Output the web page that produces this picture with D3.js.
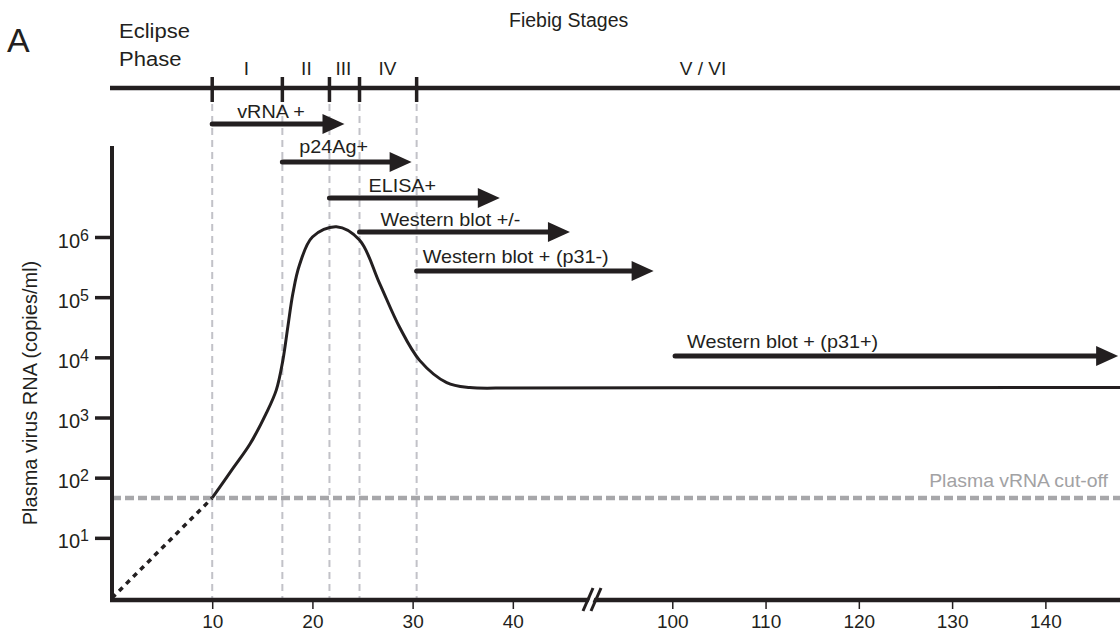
<!DOCTYPE html>
<html>
<head>
<meta charset="utf-8">
<title>Fiebig stages</title>
<script src="https://d3js.org/d3.v7.min.js"></script>
<style>
  body { margin: 0; background: #fff; }
  text { font-family: "Liberation Sans", Arial, Helvetica, sans-serif; fill: #231f20; }
</style>
</head>
<body>
<script>
// ---- data ----
var curveDays   = [10, 12.1, 13.8, 15.4, 16.4, 17.05, 17.55, 18.05, 18.7, 20.0, 22.4, 24.7, 26.7, 28.7, 30.7, 33.4, 35.7, 40, 100, 148];
var curveCopies = [46, 145, 370, 1180, 2880, 8900, 32400, 115000, 339000, 1.0e6, 1.48e6, 890000, 170000, 31600, 8900, 3800, 3150, 3100, 3120, 3150];
var extrapDays   = [0, 10];
var extrapCopies = [1, 46];
var cutoffCopies = 46;

var stageBounds = [10, 17, 21.7, 24.7, 30.4];
var stageNames  = ["I", "II", "III", "IV", "V / VI"];
var stageMid    = [13.4, 19.4, 23.1, 27.5, 103.3];

var assayNames = ["vRNA +", "p24Ag+", "ELISA+", "Western blot +/-", "Western blot + (p31-)", "Western blot + (p31+)"];
var assayStart = [10, 17, 21.7, 24.7, 30.4, 100.3];
var assayEnd   = [23.2, 29.9, 38.7, 45.7, 98, 147.8];

var xTicks = [10, 20, 30, 40, 100, 110, 120, 130, 140];
var yTicks = [1e1, 1e2, 1e3, 1e4, 1e5, 1e6];

// ---- layout ----
var width = 1120, height = 635;
var arrowRows = [124, 162, 198, 232, 271, 356];   // y of each arrow
var labelDx   = [25, 17, 39, 21, 6, 12];
var labelDy   = [-6, -9, -6, -6, -8, -8];
var ink = "#231f20";
var axisY = 600, stageY = 88;

var svg = d3.select("body").append("svg")
  .attr("width", width)
  .attr("height", height);

// broken time axis: two linear pieces joined at the break
var x = d3.scaleLinear()
  .domain([0, 48, 91.5, 148])
  .range([112, 593, 593, 1120]);
var y = d3.scaleLog()
  .domain([1, 1e6])
  .range([598, 237]);

function label(txt, px, py, size, sx, anchor, fill) {
  return svg.append("text")
    .attr("transform", "translate(" + px + "," + py + ") scale(" + (sx || 1) + ",1)")
    .attr("text-anchor", anchor || "start")
    .style("font-size", size + "px")
    .style("fill", fill || ink)
    .text(txt);
}

// vertical dashed guides at stage boundaries
svg.selectAll(".guide").data(stageBounds).enter().append("line")
  .attr("class", "guide")
  .attr("x1", function(d){ return x(d); })
  .attr("x2", function(d){ return x(d); })
  .attr("y1", 104).attr("y2", axisY)
  .style("stroke", "#c2c2c8")
  .style("stroke-width", 2)
  .style("stroke-dasharray", "7,5");

// cut-off line
svg.append("line")
  .attr("x1", 112).attr("x2", width)
  .attr("y1", y(cutoffCopies)).attr("y2", y(cutoffCopies))
  .style("stroke", "#a7a7aa")
  .style("stroke-width", 4.5)
  .style("stroke-dasharray", "9,4");
label("Plasma vRNA cut-off", 1108, y(cutoffCopies) - 11, 18, 1.08, "end", "#a2a2a4");

// extrapolated (dotted) part
var line = d3.line()
  .x(function(d){ return x(d[0]); })
  .y(function(d){ return y(d[1]); });

svg.append("path")
  .datum(d3.zip(extrapDays, extrapCopies))
  .attr("d", line)
  .style("fill", "none")
  .style("stroke", ink)
  .style("stroke-width", 3.5)
  .style("stroke-dasharray", "5,5");

// viral load curve
svg.append("path")
  .datum(d3.zip(curveDays, curveCopies))
  .attr("d", line.curve(d3.curveCatmullRom.alpha(0.5)))
  .style("fill", "none")
  .style("stroke", ink)
  .style("stroke-width", 3);

// y axis
var yAxis = svg.append("g")
  .attr("transform", "translate(112,0)")
  .call(d3.axisLeft(y).tickValues(yTicks).tickSize(17).tickFormat(""));
yAxis.select(".domain").remove();
yAxis.selectAll(".tick line").style("stroke", ink).style("stroke-width", 3.5);
yAxis.selectAll(".tick").each(function(d) {
  var t = d3.select(this).append("text")
    .attr("x", -23).attr("y", 10)
    .attr("text-anchor", "end")
    .style("font-size", "20px")
    .style("fill", ink);
  t.append("tspan").text("10");
  t.append("tspan").attr("dy", -7).style("font-size", "16px").text(Math.round(Math.log10(d)));
});
svg.append("line")
  .attr("x1", 112).attr("x2", 112)
  .attr("y1", 146).attr("y2", axisY + 2)
  .style("stroke", ink).style("stroke-width", 4);

svg.append("text")
  .attr("transform", "translate(37,393) rotate(-90)")
  .attr("text-anchor", "middle")
  .style("font-size", "20px")
  .text("Plasma virus RNA (copies/ml)");

// x axis
var xAxis = svg.append("g")
  .attr("transform", "translate(0," + axisY + ")")
  .call(d3.axisBottom(x).tickValues(xTicks).tickSize(9).tickPadding(6));
xAxis.select(".domain").remove();
xAxis.selectAll(".tick line").style("stroke", ink).style("stroke-width", 1.5);
xAxis.selectAll(".tick text")
  .style("font-size", "19px")
  .style("fill", ink)
  .style("font-family", "'Liberation Sans', Arial, sans-serif");
svg.append("line")
  .attr("x1", 110).attr("x2", width)
  .attr("y1", axisY).attr("y2", axisY)
  .style("stroke", ink).style("stroke-width", 4.5);

// axis break  //
var bx = x(48);
svg.append("polygon")
  .attr("points", [[bx - 8, 611], [bx + 1, 589], [bx + 5, 589], [bx - 4, 611]].join(" "))
  .style("fill", "#fff");
[-10, -2].forEach(function(o) {
  svg.append("line")
    .attr("x1", bx + o).attr("y1", 611)
    .attr("x2", bx + o + 10).attr("y2", 588)
    .style("stroke", ink).style("stroke-width", 3);
});

// Fiebig stage bar
svg.append("line")
  .attr("x1", 110).attr("x2", width)
  .attr("y1", stageY).attr("y2", stageY)
  .style("stroke", ink).style("stroke-width", 4.5);
svg.selectAll(".stick").data(stageBounds).enter().append("line")
  .attr("class", "stick")
  .attr("x1", function(d){ return x(d); })
  .attr("x2", function(d){ return x(d); })
  .attr("y1", 77).attr("y2", 102)
  .style("stroke", ink).style("stroke-width", 3.5);
svg.selectAll(".sname").data(stageNames).enter().append("text")
  .attr("class", "sname")
  .attr("x", function(d, i){ return x(stageMid[i]); })
  .attr("y", 75)
  .attr("text-anchor", "middle")
  .style("font-size", "19px")
  .text(function(d){ return d; });

label("Fiebig Stages", 509, 27, 19.5, 1);
label("Eclipse", 119, 38, 19.5, 1.13);
label("Phase", 119, 66, 19.5, 1.13);
label("A", 7, 52, 34, 1);

// assay arrows
var head = 22, half = 10;
assayNames.forEach(function(name, i) {
  var x0 = x(assayStart[i]), x1 = x(assayEnd[i]), ay = arrowRows[i];
  svg.append("line")
    .attr("x1", x0).attr("x2", x1 - head + 2)
    .attr("y1", ay).attr("y2", ay)
    .style("stroke", ink).style("stroke-width", 5)
    .style("stroke-linecap", "round");
  svg.append("polygon")
    .attr("points", [[x1, ay], [x1 - head, ay - half], [x1 - head, ay + half]].join(" "))
    .style("fill", ink);
  label(name, x0 + labelDx[i], ay + labelDy[i], 18, 1.1);
});
</script>
</body>
</html>
